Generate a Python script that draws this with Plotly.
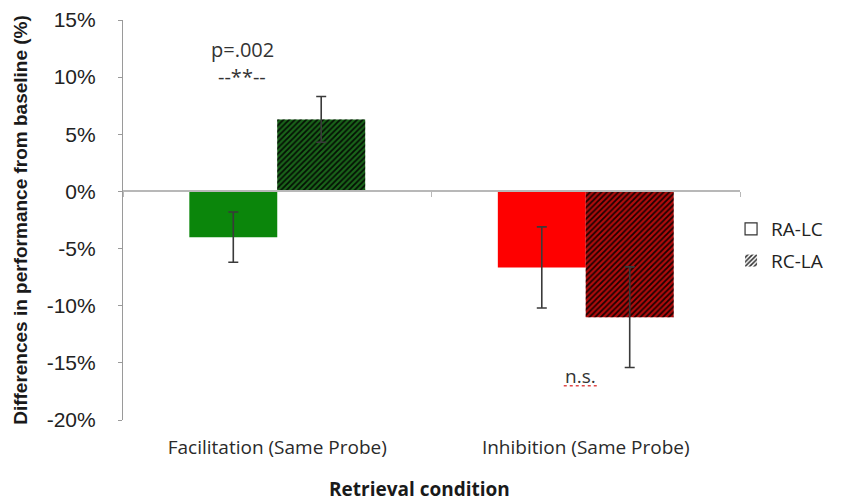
import plotly.graph_objects as go

# Retrieval conditions and the two group means (% change from baseline)
conditions = ["Facilitation (Same Probe)", "Inhibition (Same Probe)"]
ra_lc = [-4.0, -6.65]
ra_lc_err = [2.2, 3.55]
rc_la = [6.3, -11.0]
rc_la_err = [2.0, 4.4]

ra_lc_colors = ["#0b860b", "#fe0000"]
rc_la_colors = ["#1a641a", "#b00c0c"]

y_ticks = [15, 10, 5, 0, -5, -10, -15, -20]
y_tick_text = [f"{v}%" for v in y_ticks]
y_min, y_max = -20, 15

err_style = dict(type="data", color="#3a3a3a", thickness=1.6, width=5)

fig = go.Figure()

fig.add_trace(go.Bar(
    name="RA-LC", x=conditions, y=ra_lc, offsetgroup="ra",
    marker=dict(color=ra_lc_colors, line=dict(width=0)),
    error_y=dict(array=ra_lc_err, **err_style),
    showlegend=False,
))
# RC-LA: solid fill, then a black diagonal hatch laid over the same slot
fig.add_trace(go.Bar(
    name="RC-LA", x=conditions, y=rc_la, offsetgroup="rc",
    marker=dict(color=rc_la_colors, line=dict(width=0)),
    showlegend=False, hoverinfo="skip",
))
fig.add_trace(go.Bar(
    name="RC-LA", x=conditions, y=rc_la, offsetgroup="rc",
    marker=dict(color="rgba(0,0,0,0)", line=dict(width=0),
                pattern=dict(shape="/", fgcolor="#000000", bgcolor="rgba(0,0,0,0)",
                             fgopacity=0.85, size=4, solidity=0.45)),
    error_y=dict(array=rc_la_err, **err_style),
    showlegend=False,
))

# legend keys (kept on the label axis so they do not take bar slots)
fig.add_trace(go.Bar(
    name="RA-LC", x=[None], y=[None], xaxis="x2", legendgroup="a",
    marker=dict(color="white", line=dict(color="#333333", width=1.2)),
))
fig.add_trace(go.Bar(
    name="RC-LA", x=[None], y=[None], xaxis="x2", legendgroup="b",
    marker=dict(color="white", line=dict(color="white", width=0),
                pattern=dict(shape="/", fgcolor="#333333", bgcolor="white",
                             fgopacity=1, size=4, solidity=0.5)),
))

# carrier for the bottom category labels
fig.add_trace(go.Scatter(
    x=conditions, y=[0, 0], xaxis="x2", mode="markers",
    marker=dict(opacity=0), showlegend=False, hoverinfo="skip",
))

zero_pos = (0 - y_min) / (y_max - y_min)
ns_y = -16.3

fig.update_layout(
    width=855, height=504,
    margin=dict(l=123, r=115, t=20, b=84, autoexpand=False),
    paper_bgcolor="white", plot_bgcolor="white",
    barmode="group", bargap=0.43, bargroupgap=0,
    font=dict(family="Open Sans", color="#333333"),
    xaxis=dict(
        type="category", categoryarray=conditions, range=[-0.5, 1.5],
        anchor="free", position=zero_pos,
        showline=True, linecolor="#b8b8b8", linewidth=1.6,
        ticks="outside", tickson="boundaries", ticklen=5,
        tickcolor="#b8b8b8", tickwidth=1.3,
        showticklabels=False, showgrid=False, zeroline=False,
    ),
    xaxis2=dict(
        type="category", categoryarray=conditions, range=[-0.5, 1.5],
        overlaying="x", anchor="y", side="bottom",
        showline=False, ticks="", showgrid=False, zeroline=False,
        tickfont=dict(family="Open Sans", size=19, color="#2a2a2a"),
        ticklabelstandoff=14,
    ),
    yaxis=dict(
        range=[y_min, y_max], tickmode="array",
        tickvals=y_ticks, ticktext=y_tick_text,
        showline=True, linecolor="#9a9a9a", linewidth=1.2,
        ticks="outside", ticklen=4, tickcolor="#9a9a9a",
        showgrid=False, zeroline=False,
        tickfont=dict(family="Liberation Sans", size=21, color="#222222"),
        ticklabelstandoff=18,
        title=dict(text="<b>Differences in performance from baseline (%)</b>",
                   font=dict(family="Liberation Sans", size=19, color="#1a1a1a"),
                   standoff=14),
    ),
    legend=dict(
        x=0.9855, y=0.525, xanchor="left", yanchor="top",
        font=dict(family="Open Sans", size=19, color="#222222"),
        tracegroupgap=4, bgcolor="rgba(0,0,0,0)",
    ),
    annotations=[
        dict(text="p=.002", x=conditions[0], y=12.4, xref="x", yref="y",
             xshift=-35, showarrow=False,
             font=dict(family="Open Sans", size=20, color="#333333")),
        dict(text="--**--", x=conditions[0], y=10.1, xref="x", yref="y",
             xshift=-35, showarrow=False,
             font=dict(family="Open Sans", size=20, color="#333333")),
        dict(text="n.s.", x=conditions[1], y=ns_y, xref="x", yref="y",
             xshift=-5, yshift=2, showarrow=False,
             font=dict(family="Open Sans", size=19, color="#333333")),
        dict(text="<b>Retrieval condition</b>", x=0.481, y=-0.1725,
             xref="paper", yref="paper", showarrow=False, yanchor="middle",
             font=dict(family="Open Sans", size=19, color="#1a1a1a")),
    ],
    shapes=[
        # dotted red underline beneath "n.s."
        dict(type="line", xref="x", yref="y",
             xsizemode="pixel", ysizemode="pixel",
             xanchor=1, yanchor=ns_y,
             x0=-22, x1=12, y0=-8, y1=-8,
             line=dict(color="#e04848", width=1.6, dash="dot")),
    ],
)

fig.write_html("out.html")
